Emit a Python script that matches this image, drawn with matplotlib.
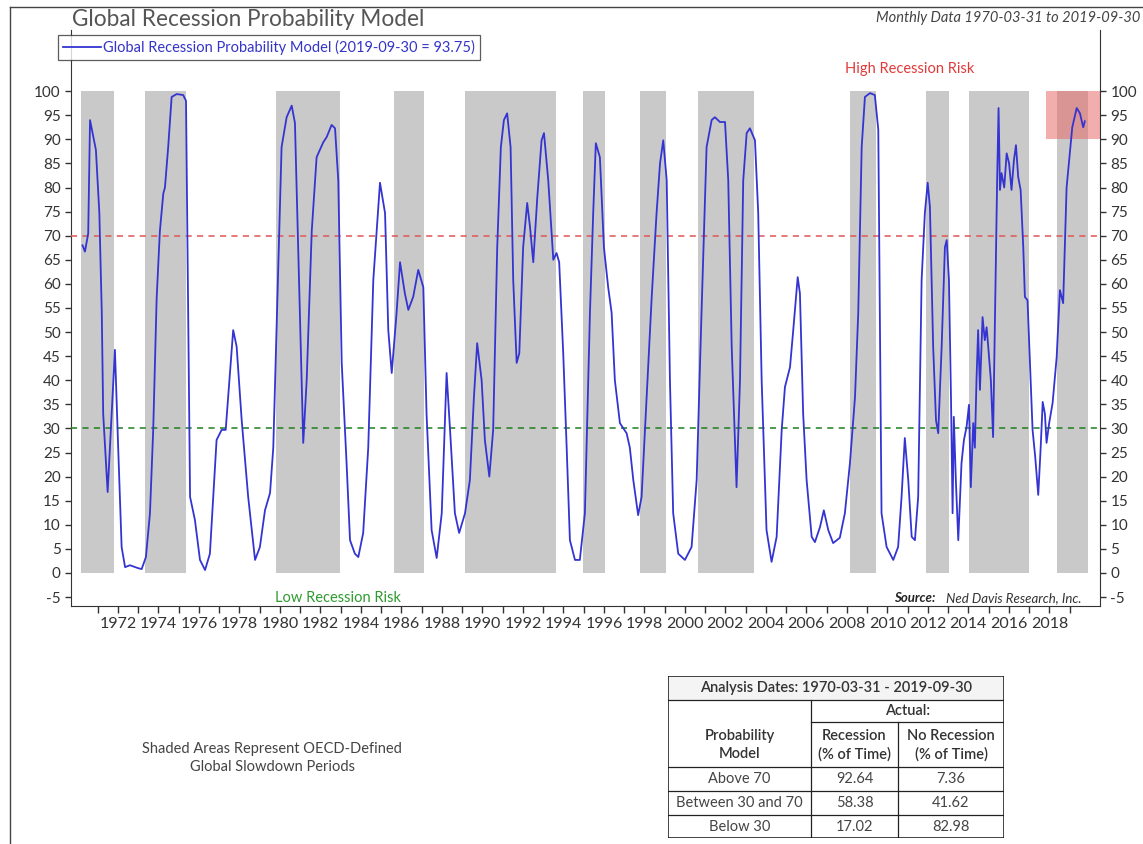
#Global Recession Probability Model

import numpy as np
import matplotlib.pyplot as plt
from matplotlib.lines import Line2D

plt.rcParams['font.family'] = ['Lato', 'DejaVu Sans']

# (decimal year, probability)
model = [
    (1970.25, 68), (1970.37, 66.7), (1970.53, 70.5), (1970.62, 94), (1970.91, 87.8),
    (1971.08, 74.7), (1971.20, 54), (1971.27, 33), (1971.41, 22.8), (1971.49, 16.8),
    (1971.85, 46.3), (1972.01, 26), (1972.18, 5.4), (1972.35, 1.2), (1972.59, 1.6),
    (1972.99, 1.0), (1973.17, 0.8), (1973.38, 3.3), (1973.58, 12.4), (1973.74, 29.7),
    (1973.91, 57), (1974.07, 71), (1974.24, 78.8), (1974.32, 80), (1974.48, 88.4),
    (1974.65, 98.8), (1974.90, 99.4), (1975.22, 99.2), (1975.36, 98), (1975.56, 15.8),
    (1975.80, 11), (1976.05, 2.7), (1976.30, 0.6), (1976.54, 4), (1976.87, 27.6),
    (1977.12, 29.7), (1977.32, 29.7), (1977.69, 50.4), (1977.86, 47), (1978.11, 31.7),
    (1978.43, 15.8), (1978.77, 2.7), (1979.01, 5.4), (1979.26, 13), (1979.51, 16.6),
    (1979.67, 26), (1979.92, 64.3), (1980.08, 88.4), (1980.33, 94.6), (1980.58, 97),
    (1980.74, 93.4), (1980.90, 67.6), (1981.15, 27), (1981.32, 40), (1981.57, 71),
    (1981.81, 86.3), (1982.14, 89.4), (1982.31, 90.5), (1982.55, 93), (1982.72, 92.3),
    (1982.88, 81.5), (1983.05, 43.6), (1983.29, 22.8), (1983.46, 6.8), (1983.70, 4),
    (1983.87, 3.3), (1984.11, 8.3), (1984.36, 26), (1984.61, 60.8), (1984.94, 81),
    (1985.19, 74.7), (1985.35, 50.4), (1985.52, 41.5), (1985.76, 54), (1985.93, 64.5),
    (1986.17, 58), (1986.34, 54.6), (1986.58, 57.3), (1986.83, 62.9), (1987.08, 59.3),
    (1987.24, 33), (1987.49, 8.9), (1987.74, 3.1), (1987.99, 12.4), (1988.23, 41.5),
    (1988.40, 29.7), (1988.64, 12.4), (1988.85, 8.3), (1989.14, 12.4), (1989.38, 19.3),
    (1989.58, 36.5), (1989.74, 47.7), (1989.96, 40), (1990.12, 27.6), (1990.34, 20),
    (1990.53, 29.7), (1990.73, 67.6), (1990.91, 88.4), (1991.06, 94), (1991.22, 95.4),
    (1991.39, 88.4), (1991.52, 60.8), (1991.69, 43.6), (1991.82, 45.6), (1992.01, 67.6),
    (1992.21, 76.8), (1992.35, 71.8), (1992.51, 64.5), (1992.71, 78), (1992.92, 89.8),
    (1993.04, 91.3), (1993.25, 81.5), (1993.50, 65), (1993.66, 66.4), (1993.79, 64.5),
    (1993.99, 45.6), (1994.16, 26), (1994.32, 6.8), (1994.57, 2.7), (1994.81, 2.7),
    (1995.06, 12.4), (1995.31, 54), (1995.47, 74.7), (1995.60, 89.2), (1995.80, 86.3),
    (1996.00, 67.6), (1996.21, 59.3), (1996.38, 54), (1996.54, 40), (1996.79, 31.1),
    (1997.12, 29), (1997.28, 26), (1997.45, 19.3), (1997.69, 12), (1997.86, 15.8),
    (1998.11, 36.5), (1998.36, 57.3), (1998.60, 74.7), (1998.77, 85), (1998.93, 89.8),
    (1999.10, 81.5), (1999.26, 40), (1999.42, 12.4), (1999.67, 4), (2000.00, 2.7),
    (2000.33, 5.4), (2000.58, 19.3), (2000.82, 54), (2001.07, 88.4), (2001.32, 94),
    (2001.48, 94.6), (2001.73, 93.6), (2001.98, 93.6), (2002.14, 81.5), (2002.31, 47),
    (2002.55, 17.8), (2002.72, 40), (2002.88, 81.5), (2003.05, 91.3), (2003.21, 92.3),
    (2003.46, 89.8), (2003.62, 74.7), (2003.79, 40), (2004.03, 8.9), (2004.28, 2.3),
    (2004.53, 7.5), (2004.78, 29.7), (2004.94, 38.6), (2005.19, 42.7), (2005.35, 50.4),
    (2005.57, 61.4), (2005.68, 58), (2005.84, 33), (2006.01, 19.3), (2006.26, 7.5),
    (2006.42, 6.4), (2006.67, 9.5), (2006.86, 13), (2007.08, 8.9), (2007.32, 6.2),
    (2007.65, 7.3), (2007.90, 12.4), (2008.15, 22.8), (2008.40, 36.5), (2008.56, 54),
    (2008.73, 88.4), (2008.89, 98.8), (2009.14, 99.6), (2009.38, 99.2), (2009.55, 92),
    (2009.71, 12.4), (2009.96, 5.4), (2010.29, 2.7), (2010.53, 5.4), (2010.70, 15.8),
    (2010.86, 28), (2011.03, 19.3), (2011.20, 7.5), (2011.36, 6.8), (2011.52, 15.8),
    (2011.69, 60.8), (2011.85, 74.7), (2011.99, 81), (2012.10, 76), (2012.26, 47),
    (2012.40, 31.7), (2012.51, 29), (2012.68, 47), (2012.84, 67.6), (2012.93, 69.1),
    (2013.04, 60.8), (2013.14, 36.5), (2013.22, 12.4), (2013.28, 32.4), (2013.38, 19.3),
    (2013.50, 6.8), (2013.66, 22.8), (2013.78, 27.6), (2013.91, 30.3), (2014.03, 34.9),
    (2014.12, 17.8), (2014.24, 31.1), (2014.32, 26), (2014.40, 40), (2014.48, 50.4),
    (2014.57, 38), (2014.70, 53.1), (2014.81, 48.3), (2014.90, 51), (2014.98, 47),
    (2015.11, 40), (2015.22, 28.2), (2015.34, 60.8), (2015.42, 81.5), (2015.49, 96.5),
    (2015.56, 79.5), (2015.64, 83), (2015.77, 80), (2015.89, 87.1), (2016.01, 85),
    (2016.13, 79.5), (2016.25, 85.7), (2016.35, 88.8), (2016.46, 82.2), (2016.58, 79.5),
    (2016.71, 67.6), (2016.79, 57.3), (2016.92, 56.6), (2017.04, 43.6), (2017.17, 29.7),
    (2017.30, 24.1), (2017.45, 16.2), (2017.57, 26), (2017.67, 35.5), (2017.78, 33),
    (2017.86, 27), (2017.99, 31.1), (2018.16, 35.3), (2018.36, 44.8), (2018.52, 58.7),
    (2018.68, 56), (2018.85, 80), (2019.01, 87.1), (2019.13, 92.5), (2019.35, 96.5),
    (2019.51, 95.4), (2019.67, 92.5), (2019.75, 93.75),
]
years = [p[0] for p in model]
prob = [p[1] for p in model]

# OECD-defined global slowdown periods
slow_start = [1970.16, 1973.33, 1979.80, 1985.63, 1989.14, 1994.96, 1997.78, 2000.64,
              2008.15, 2011.89, 2014.02, 2018.37]
slow_end = [1971.80, 1975.36, 1982.96, 1987.11, 1993.63, 1996.05, 1999.06, 2003.41,
            2009.44, 2013.03, 2016.99, 2019.90]

high_risk = 70
low_risk = 30

table_rows = ["Above 70", "Between 30 and 70", "Below 30"]
recession_pct = ["92.64", "58.38", "17.02"]
no_recession_pct = ["7.36", "41.62", "82.98"]

fig = plt.figure(figsize=(11.43, 8.44), dpi=100)
ax = fig.add_axes([71/1143, 1-605.7/844, 1029/1143, 575.7/844])

# shaded slowdown periods, 0 to 100
for s, e in zip(slow_start, slow_end):
    ax.fill_between([s, e], 0, 100, color='#c9c9c9', lw=0, zorder=1)

# highlight box for the latest reading
ax.fill_between([2017.83, 2020.5], 90, 100, color='#e86a6a', alpha=0.55, lw=0, zorder=2)

ax.axhline(high_risk, color='#e05555', lw=1.1, ls=(0, (4, 3.5)), zorder=3)
ax.axhline(low_risk, color='#1f7f1f', lw=1.1, ls=(0, (4, 3.5)), zorder=3)

ax.plot(years, prob, color='#3434d2', lw=1.3, zorder=4, solid_joinstyle='round',
        label="Global Recession Probability Model (2019-09-30 = 93.75)")

ax.set_xlim(1969.68, 2020.5)
ax.set_ylim(-6.8, 112.7)

yt = np.arange(-5, 101, 5)
ax.set_yticks(yt)
ax.set_yticklabels([str(v) for v in yt])
ax.tick_params(axis='y', which='both', left=True, right=True, labelleft=True,
               labelright=True, direction='out', length=4, width=1, colors='#333333',
               labelsize=11)
xt = np.arange(1972, 2019, 2)
ax.set_xticks(xt)
ax.set_xticklabels([str(v) for v in xt])
ax.set_xticks(np.arange(1971, 2020, 2), minor=True)
ax.tick_params(axis='x', which='both', direction='out', length=5, width=1,
               colors='#333333', labelsize=11.5, pad=3)
for side in ['left', 'right', 'bottom']:
    ax.spines[side].set_color('#333333')
ax.spines['top'].set_visible(False)

leg = ax.legend(loc='upper left', bbox_to_anchor=(58/1143, 1-35/844),
                bbox_transform=fig.transFigure, borderaxespad=0, fancybox=False,
                frameon=True, edgecolor='#333333', handlelength=2.6, handletextpad=0.15,
                borderpad=0.35, fontsize=10.5, labelcolor='#3434c8')
leg.get_frame().set_linewidth(0.9)

ax.text(0.8154, 0.9323, "High Recession Risk", transform=ax.transAxes, ha='center',
        va='center', color='#e03a3a', fontsize=10.5)
ax.text(0.2595, 0.0134, "Low Recession Risk", transform=ax.transAxes, ha='center',
        va='center', color='#2f9a2f', fontsize=10.5)
ax.text(0.9825, 0.0134, "Ned Davis Research, Inc.", transform=ax.transAxes, ha='right',
        va='center', color='#333333', fontsize=9.5, style='italic')
ax.text(0.8397, 0.0134, "Source:", transform=ax.transAxes, ha='right',
        va='center', color='#222222', fontsize=9.5, style='italic', weight='bold')

fig.text(72/1143, 1-20/844, "Global Recession Probability Model", ha='left', va='center',
         fontsize=16.3, color='#555555')
fig.text(1140/1143, 1-18/844, "Monthly Data 1970-03-31 to 2019-09-30", ha='right',
         va='center', fontsize=10.5, style='italic', color='#444444')
fig.text(272/1143, 1-758/844, "Shaded Areas Represent OECD-Defined\nGlobal Slowdown Periods",
         ha='center', va='center', fontsize=10.5, color='#444444', linespacing=1.35)

# outer frame
fig.add_artist(Line2D([10/1143, 1], [1-7/844, 1-7/844], color='#444444', lw=1,
                      transform=fig.transFigure))
fig.add_artist(Line2D([10/1143, 10/1143], [0, 1-7/844], color='#444444', lw=1,
                      transform=fig.transFigure))

# summary table
tab = fig.add_axes([668/1143, 1-838/844, 336/1143, 162/844])
tab.set_xlim(668, 1004)
tab.set_ylim(838, 676)
tab.axis('off')
tab.fill_between([668, 1004], 676, 700, color='#f4f4f4', lw=0)
tab.plot([668, 1004, 1004, 668, 668], [676, 676, 838, 838, 676], color='#222222', lw=1.2)
for y in [700, 767, 791, 815]:
    tab.plot([668, 1004], [y, y], color='#222222', lw=0.9)
tab.plot([811, 1004], [722, 722], color='#222222', lw=0.9)
tab.plot([811, 811], [700, 838], color='#222222', lw=0.9)
tab.plot([898, 898], [722, 838], color='#222222', lw=0.9)

hdr = dict(ha='center', va='center', fontsize=10.5, color='#333333', weight='semibold')
tab.text(836, 688, "Analysis Dates: 1970-03-31 - 2019-09-30", **hdr)
tab.text(907.5, 711, "Actual:", **hdr)
tab.text(739.5, 745, "Probability\nModel", linespacing=1.4, **hdr)
tab.text(854.5, 745, "Recession\n(% of Time)", linespacing=1.4, **hdr)
tab.text(951, 745, "No Recession\n(% of Time)", linespacing=1.4, **hdr)
body = dict(ha='center', va='center', fontsize=10.5, color='#444444')
for i, name in enumerate(table_rows):
    yc = 779 + 24*i
    tab.text(739.5, yc, name, **body)
    tab.text(854.5, yc, recession_pct[i], **body)
    tab.text(951, yc, no_recession_pct[i], **body)

fig.savefig("out.png", dpi=100)
